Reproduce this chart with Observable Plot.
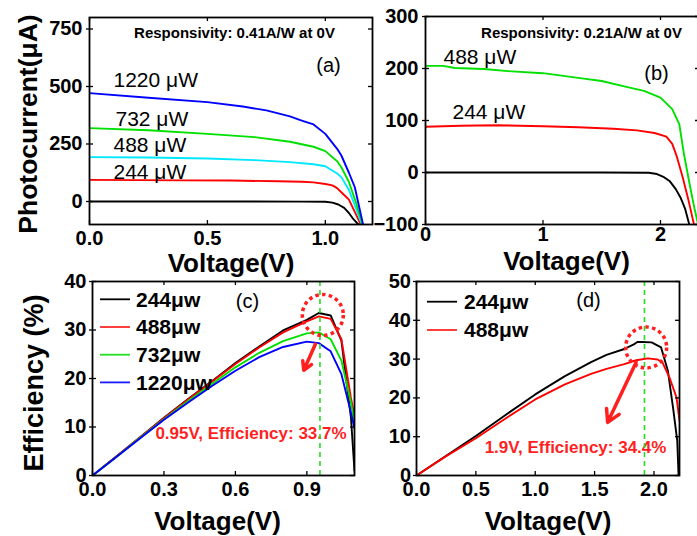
<!DOCTYPE html>
<html><head><meta charset="utf-8">
<script src="https://cdn.jsdelivr.net/npm/d3@7"></script>
<script src="https://cdn.jsdelivr.net/npm/@observablehq/plot@0.6"></script>
<style>
html,body{margin:0;padding:0;background:#fff;overflow:hidden;}
#wrap{position:relative;width:697px;height:536px;overflow:hidden;font-family:"Liberation Sans",Arial,Helvetica,sans-serif;}
#wrap > svg{position:absolute;overflow:visible;}
</style></head><body><div id="wrap"></div>
<script>
// ---------- Panel (a): I-V, responsivity 0.41 A/W ----------
const aNames = ["dark", "244 μW", "488 μW", "732 μW", "1220 μW"];
const aColors = ["#000000", "#ff0000", "#00e8ff", "#00e000", "#0000ff"];
const aDarkV = [0, 0.3, 0.6, 0.9, 1.0, 1.03, 1.055, 1.08, 1.10, 1.12, 1.14];
const aDarkI = [0, 0, 0, -0.5, -1, -5, -13, -28, -50, -78, -100];
const a244V = [0, 0.2, 0.4, 0.6, 0.8, 0.9, 0.95, 1.0, 1.03, 1.05, 1.07, 1.10, 1.125, 1.15];
const a244I = [94, 93, 92, 91, 88, 86, 83, 76, 70, 58, 38, 8, -45, -100];
const a488V = [0, 0.25, 0.5, 0.7, 0.85, 0.95, 1.0, 1.05, 1.068, 1.1, 1.13, 1.155];
const a488I = [193, 191, 187, 180, 171, 162, 153, 122, 106, 50, -30, -100];
const a732V = [0, 0.25, 0.5, 0.7, 0.85, 0.95, 1.0, 1.05, 1.068, 1.1, 1.13, 1.158];
const a732I = [319, 310, 294, 280, 260, 238, 219, 175, 149, 85, -5, -100];
const a1220V = [0, 0.25, 0.5, 0.65, 0.75, 0.85, 0.9, 0.95, 1.0, 1.05, 1.068, 1.1, 1.125, 1.16];
const a1220I = [471, 451, 432, 413, 396, 370, 352, 335, 294, 229, 200, 125, 62, -100];
const aXTicks = [0, 0.5, 1.0];
const aYTicks = [0, 250, 500, 750];

// ---------- Panel (b): I-V, responsivity 0.21 A/W ----------
const bNames = ["dark", "244 μW", "488 μW"];
const bColors = ["#000000", "#ff0000", "#00e000"];
const bDarkV = [0, 0.5, 1.0, 1.5, 1.9, 1.97, 2.03, 2.08, 2.13, 2.17, 2.21, 2.245];
const bDarkI = [0, 0, 0, 0, -0.5, -3, -9, -17, -32, -48, -70, -100];
const b244V = [0, 0.3, 0.6, 1.0, 1.3, 1.6, 1.8, 1.95, 2.05, 2.1, 2.14, 2.19, 2.24, 2.285];
const b244I = [88, 90, 91, 89, 87, 84, 81, 76, 69, 55, 30, -10, -55, -100];
const b488V = [0, 0.15, 0.25, 0.5, 0.7, 1.0, 1.3, 1.5, 1.7, 1.86, 2.0, 2.1, 2.16, 2.2, 2.25, 2.29, 2.325];
const b488I = [205, 205, 201, 199, 195, 191, 182, 176, 165, 157, 144, 122, 93, 35, -25, -70, -105];
const bXTicks = [0, 1, 2];
const bYTicks = [-100, 0, 100, 200, 300];

// ---------- Panel (c): efficiency ----------
const cNames = ["244μw", "488μw", "732μw", "1220μw"];
const cColors = ["#000000", "#ff0000", "#00e000", "#0000ff"];
const cV = [0, 0.1, 0.2, 0.3, 0.4, 0.5, 0.6, 0.7, 0.8, 0.9, 0.95, 1.0, 1.045, 1.085, 1.1];
const c244 = [0, 3.9, 7.9, 11.9, 15.7, 19.4, 23.2, 26.6, 29.9, 32.1, 33.5, 33.0, 27.8, 12, 1];
const c488 = [0, 3.9, 7.9, 11.8, 15.6, 19.3, 23.0, 26.4, 29.5, 31.8, 32.8, 32.3, 28.1, 16, 12.3];
const c732 = [0, 3.8, 7.8, 11.6, 15.3, 18.8, 22.3, 25.3, 27.7, 29.3, 29.5, 28.1, 23.7, 15, 11];
const c1220 = [0, 3.8, 7.7, 11.5, 15.0, 18.4, 21.6, 24.4, 26.5, 27.6, 27.3, 25.6, 20.9, 13, 9.7];
const cXTicks = [0, 0.3, 0.6, 0.9];
const cYTicks = [0, 10, 20, 30, 40];
const cPeak = [{v: 0.955, cx: 0.967, cy: 33.1, ax1: 0.936, ay1: 27.1, ax2: 0.887, ay2: 21.7}];
const cNote = ["0.95V, Efficiency: 33.7%"];

// ---------- Panel (d): efficiency ----------
const dNames = ["244μw", "488μw"];
const dColors = ["#000000", "#ff0000"];
const d244V = [0, 0.25, 0.5, 0.75, 1.0, 1.25, 1.47, 1.6, 1.75, 1.83, 1.86, 1.9, 1.98, 2.06, 2.117, 2.16, 2.196, 2.207];
const d244E = [0, 5.1, 10.2, 15.6, 20.9, 25.6, 29.2, 31.1, 32.6, 33.8, 34.4, 34.4, 34.3, 33.0, 27, 17.6, 9, 0];
const d488V = [0, 0.25, 0.5, 0.75, 1.0, 1.25, 1.47, 1.6, 1.75, 1.85, 1.95, 2.03, 2.07, 2.13, 2.19, 2.215];
const d488E = [0, 5.0, 9.6, 14.7, 19.6, 23.5, 26.2, 27.5, 28.7, 29.7, 30.2, 29.9, 29.2, 25.3, 20.1, 14.2];
const dXTicks = [0, 0.5, 1.0, 1.5, 2.0];
const dYTicks = [0, 10, 20, 30, 40, 50];
const dPeak = [{v: 1.92, cx: 1.934, cy: 33.0, ax1: 1.85, ay1: 29.2, ax2: 1.61, ay2: 13.7}];
const dNote = ["1.9V, Efficiency: 34.4%"];

// ---------- helpers ----------
const FONT = '"Liberation Sans", Arial, Helvetica, sans-serif';
const wrap = document.getElementById("wrap");
const rowsOf = (names, xs, ys) => names.flatMap((n, k) => xs[k].map((x, i) => ({x, y: ys[k][i], name: n})));

function txt(s, o) {
  return Plot.text([s], {text: d => d, frameAnchor: "top-left", textAnchor: "start", lineAnchor: "middle", fill: "black", ...o});
}

function panel(o) {
  const rows = rowsOf(o.names, o.xs, o.ys);
  const iw = o.width - o.ml - o.mr, ih = o.height - o.mt - o.mb;
  const marks = [];
  (o.before || []).forEach(m => marks.push(m));
  o.names.forEach((n, k) => marks.push(Plot.line(rows.filter(r => r.name === n), {x: "x", y: "y", stroke: o.colors[k], strokeWidth: 1.9, clip: true})));
  (o.after || []).forEach(m => marks.push(m));
  marks.push(
    Plot.frame({stroke: "black", strokeWidth: 1.8}),
    Plot.tickX(o.xTicks, {x: d => d, insetTop: ih - 4, stroke: "black", strokeWidth: 1.3}),
    Plot.tickX(o.xTicks, {x: d => d, insetBottom: ih - 4, stroke: "black", strokeWidth: 1.3}),
    Plot.tickY(o.yTicks, {y: d => d, insetRight: iw - 4, stroke: "black", strokeWidth: 1.3}),
    Plot.tickY(o.yTicks, {y: d => d, insetLeft: iw - 4, stroke: "black", strokeWidth: 1.3}),
    Plot.axisX(o.xTicks, {anchor: "bottom", tickSize: 0, tickPadding: o.xPad, tickFormat: o.xFmt, fontSize: 20, fontWeight: "bold", label: null}),
    Plot.axisY(o.yTicks, {anchor: "left", tickSize: 3, tickPadding: o.yPad, tickFormat: o.yFmt, fontSize: 20, fontWeight: "bold", label: null, strokeWidth: 1.3}),
    ...o.texts
  );
  const svg = Plot.plot({
    width: o.width, height: o.height,
    marginLeft: o.ml, marginRight: o.mr, marginTop: o.mt, marginBottom: o.mb,
    x: {domain: o.xDomain}, y: {domain: o.yDomain},
    style: {background: "transparent", color: "black", fontFamily: FONT, overflow: "visible"},
    marks
  });
  svg.style.left = o.left + "px";
  svg.style.top = o.top + "px";
  if (o.legend) {
    const g = d3.select(svg).append("g").attr("text-anchor", "start");
    o.legend.names.forEach((n, i) => {
      const y = o.mt + o.legend.y0 + i * o.legend.step;
      g.append("line").attr("x1", o.ml + o.legend.x1).attr("x2", o.ml + o.legend.x2)
        .attr("y1", y).attr("y2", y).attr("stroke", o.legend.colors[i]).attr("stroke-width", 1.8);
      g.append("text").attr("x", o.ml + o.legend.tx).attr("y", y).attr("dy", "0.35em")
        .attr("text-anchor", "start")
        .attr("font-size", 21).attr("font-weight", "bold").attr("font-family", FONT).attr("fill", "black").text(n);
    });
  }
  wrap.appendChild(svg);
}

const f1 = d3.format(".1f"), f0 = d3.format("d");
const RED = "#ff1f1f", DASHGREEN = "#22dd22";

// (a)
panel({
  left: 0, top: 0, width: 380, height: 280, ml: 89, mr: 8, mt: 17, mb: 56,
  xDomain: [0, 1.2], yDomain: [-100, 800], xTicks: aXTicks, yTicks: aYTicks, xFmt: f1, yFmt: f0, xPad: 6, yPad: 4,
  names: aNames, colors: aColors, xs: [aDarkV, a244V, a488V, a732V, a1220V], ys: [aDarkI, a244I, a488I, a732I, a1220I],
  texts: [
    txt("Responsivity: 0.41A/W at 0V", {dx: 145, dy: 16, textAnchor: "middle", fontSize: 15, fontWeight: "bold", letterSpacing: "0.5px"}),
    txt("(a)", {dx: 239, dy: 48, textAnchor: "middle", fontSize: 20}),
    txt("1220 μW", {dx: 24, dy: 62.5, fontSize: 21}),
    txt("732 μW", {dx: 26, dy: 102, fontSize: 21}),
    txt("488 μW", {dx: 24, dy: 128, fontSize: 21}),
    txt("244 μW", {dx: 24, dy: 154.5, fontSize: 21}),
    txt("Photocurrent(μA)", {frameAnchor: "left", dx: -61, dy: 3, rotate: -90, textAnchor: "middle", fontSize: 26.5, fontWeight: "bold"}),
    txt("Voltage(V)", {frameAnchor: "bottom", dx: 0, dy: 39, textAnchor: "middle", fontSize: 26, fontWeight: "bold"})
  ]
});

// (b)
panel({
  left: 360, top: 0, width: 340, height: 280, ml: 65, mr: 1, mt: 16, mb: 56,
  xDomain: [0, 2.332], yDomain: [-100, 300], xTicks: bXTicks, yTicks: bYTicks, xFmt: f0, yFmt: f0, xPad: 2, yPad: 4,
  names: bNames, colors: bColors, xs: [bDarkV, b244V, b488V], ys: [bDarkI, b244I, b488I],
  texts: [
    txt("Responsivity: 0.21A/W at 0V", {dx: 156, dy: 17, textAnchor: "middle", fontSize: 15, fontWeight: "bold", letterSpacing: "0.5px"}),
    txt("(b)", {dx: 231, dy: 57, textAnchor: "middle", fontSize: 20}),
    txt("488 μW", {dx: 18, dy: 40.5, fontSize: 21}),
    txt("244 μW", {dx: 27, dy: 95.5, fontSize: 21}),
    txt("Voltage(V)", {dx: 141, dy: 245.5, textAnchor: "middle", fontSize: 26, fontWeight: "bold"})
  ]
});

function peakMarks(peak, note, noteDx, noteDy) {
  return [
    txt(note[0], {dx: noteDx, dy: noteDy, textAnchor: "middle", fontSize: 17, fontWeight: "bold", fill: RED}),
    Plot.ruleX(peak, {x: "v", stroke: DASHGREEN, strokeWidth: 1.6, strokeDasharray: "5 4"}),
    Plot.dot(peak, {x: "cx", y: "cy", r: 20.5, fill: "none", stroke: RED, strokeWidth: 3.5, strokeDasharray: "3.5 3.3"}),
    Plot.arrow(peak, {x1: "ax1", y1: "ay1", x2: "ax2", y2: "ay2", stroke: RED, strokeWidth: 3.5, headLength: 6})
  ];
}

// (c)
panel({
  left: 0, top: 265, width: 360, height: 271, ml: 92, mr: 6, mt: 16, mb: 61,
  xDomain: [0, 1.1], yDomain: [0, 40], xTicks: cXTicks, yTicks: cYTicks, xFmt: f1, yFmt: f0, xPad: 6, yPad: 3,
  names: cNames, colors: cColors, xs: [cV, cV, cV, cV], ys: [c244, c488, c732, c1220],
  after: peakMarks(cPeak, cNote, 158.5, 152.3),
  legend: {names: cNames, colors: ["#000000", "#ff2a2a", "#22e022", "#1a1aff"], x1: 8, x2: 38, tx: 44, y0: 18.3, step: 27.7},
  texts: [
    txt("(c)", {dx: 155, dy: 20, textAnchor: "middle", fontSize: 20}),
    txt("Efficiency (%)", {frameAnchor: "left", dx: -58.5, dy: 4.5, rotate: -90, textAnchor: "middle", fontSize: 27, fontWeight: "bold"}),
    txt("Voltage(V)", {frameAnchor: "bottom", dx: -6, dy: 46, textAnchor: "middle", fontSize: 26, fontWeight: "bold"})
  ]
});

// (d)
panel({
  left: 360, top: 265, width: 337, height: 271, ml: 56, mr: 18, mt: 16, mb: 61,
  xDomain: [0, 2.215], yDomain: [0, 50], xTicks: dXTicks, yTicks: dYTicks, xFmt: f1, yFmt: f0, xPad: 6, yPad: 2.5,
  names: dNames, colors: dColors, xs: [d244V, d488V], ys: [d244E, d488E],
  after: peakMarks(dPeak, dNote, 159, 165.7),
  legend: {names: dNames, colors: ["#000000", "#ff2a2a"], x1: 11, x2: 41, tx: 48, y0: 20.7, step: 28.3},
  texts: [
    txt("(d)", {dx: 172, dy: 19, textAnchor: "middle", fontSize: 20}),
    txt("Voltage(V)", {frameAnchor: "bottom", dx: 0, dy: 46, textAnchor: "middle", fontSize: 26, fontWeight: "bold"})
  ]
});
</script></body></html>
